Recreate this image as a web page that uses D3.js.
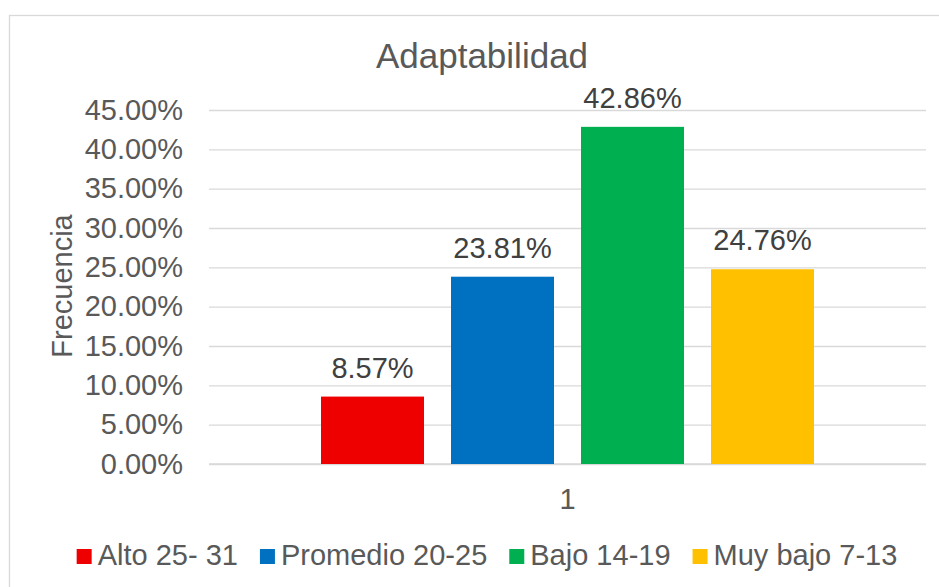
<!DOCTYPE html>
<html>
<head>
<meta charset="utf-8">
<script src="https://cdn.jsdelivr.net/npm/d3@7"></script>
<style>
  body { margin: 0; background: #fff; }
  svg { display: block; font-family: "Liberation Sans", Arial, sans-serif; }
</style>
</head>
<body>
<div id="chart"></div>
<script>
const categories = ["1"];
const series = ["Alto 25- 31", "Promedio 20-25", "Bajo 14-19", "Muy bajo 7-13"];
const values = [0.0857, 0.2381, 0.4286, 0.2476];
const colors = ["#EE0000", "#0070C0", "#00B050", "#FFC000"];
const yTicks = [0, 0.05, 0.10, 0.15, 0.20, 0.25, 0.30, 0.35, 0.40, 0.45];

const width = 939, height = 587;
const plot = { left: 209, right: 926, top: 110, bottom: 464 };

const svg = d3.select("#chart").append("svg")
  .attr("width", width)
  .attr("height", height);

// chart area border (cut off on the right and bottom like the reference)
svg.append("rect")
  .attr("x", 9.5).attr("y", 15.5)
  .attr("width", 960).attr("height", 600)
  .attr("fill", "#fff")
  .attr("stroke", "#d9d9d9")
  .attr("stroke-width", 1.3);

svg.append("text")
  .attr("x", 482)
  .attr("y", 68)
  .attr("text-anchor", "middle")
  .attr("font-size", 35)
  .attr("fill", "#595959")
  .text("Adaptabilidad");

const y = d3.scaleLinear().domain([0, 0.45]).range([plot.bottom, plot.top]);
const x0 = d3.scaleBand().domain(categories).range([plot.left, plot.right]).paddingInner(0).paddingOuter(0.2272);
const x1 = d3.scaleBand().domain(series).range([0, x0.bandwidth()]).paddingInner(0.2077).paddingOuter(0);

const yAxis = svg.append("g")
  .attr("transform", `translate(${plot.left},0)`)
  .call(d3.axisLeft(y).tickValues(yTicks).tickFormat(d3.format(".2%"))
    .tickSize(-(plot.right - plot.left)).tickPadding(26));
yAxis.select(".domain").remove();
yAxis.selectAll("line").attr("stroke", "#d9d9d9").attr("stroke-width", 1.3);
yAxis.selectAll("text")
  .attr("font-size", 29)
  .attr("font-family", "Liberation Sans, Arial, sans-serif")
  .attr("fill", "#595959");

const xAxis = svg.append("g")
  .attr("transform", `translate(0,${plot.bottom})`)
  .call(d3.axisBottom(x0).tickSize(0).tickPadding(24));
xAxis.select(".domain").attr("stroke", "#d9d9d9").attr("stroke-width", 1.3)
  .attr("d", `M${plot.left},0H${plot.right}`);
xAxis.selectAll("text")
  .attr("font-size", 29)
  .attr("font-family", "Liberation Sans, Arial, sans-serif")
  .attr("fill", "#595959");

const rows = series.map((s, i) => ({ cat: categories[0], s, v: values[i], c: colors[i] }));

svg.append("g")
  .selectAll("rect")
  .data(rows)
  .join("rect")
  .attr("x", d => x0(d.cat) + x1(d.s))
  .attr("y", d => y(d.v))
  .attr("width", x1.bandwidth())
  .attr("height", d => y(0) - y(d.v))
  .attr("fill", d => d.c);

svg.append("g")
  .selectAll("text")
  .data(rows)
  .join("text")
  .attr("x", d => x0(d.cat) + x1(d.s) + x1.bandwidth() / 2)
  .attr("y", d => y(d.v) - 19)
  .attr("text-anchor", "middle")
  .attr("font-size", 29)
  .attr("fill", "#404040")
  .text(d => d3.format(".2%")(d.v));

svg.append("text")
  .attr("transform", `translate(72,286) rotate(-90)`)
  .attr("text-anchor", "middle")
  .attr("font-size", 29)
  .attr("fill", "#595959")
  .text("Frecuencia");

// legend, centred under the chart
const legend = svg.append("g");
const items = legend.selectAll("g")
  .data(rows)
  .join("g");
items.append("rect")
  .attr("y", 549)
  .attr("width", 15)
  .attr("height", 15)
  .attr("fill", d => d.c);
items.append("text")
  .attr("x", 21)
  .attr("y", 565)
  .attr("font-size", 29)
  .attr("fill", "#595959")
  .text(d => d.s);

let cursor = 0;
const offsets = [];
items.each(function () {
  offsets.push(cursor);
  cursor += 21 + this.querySelector("text").getComputedTextLength() + 22;
});
const total = cursor - 22;
const start = 487 - total / 2;
items.attr("transform", (d, i) => `translate(${start + offsets[i]},0)`);
</script>
</body>
</html>
